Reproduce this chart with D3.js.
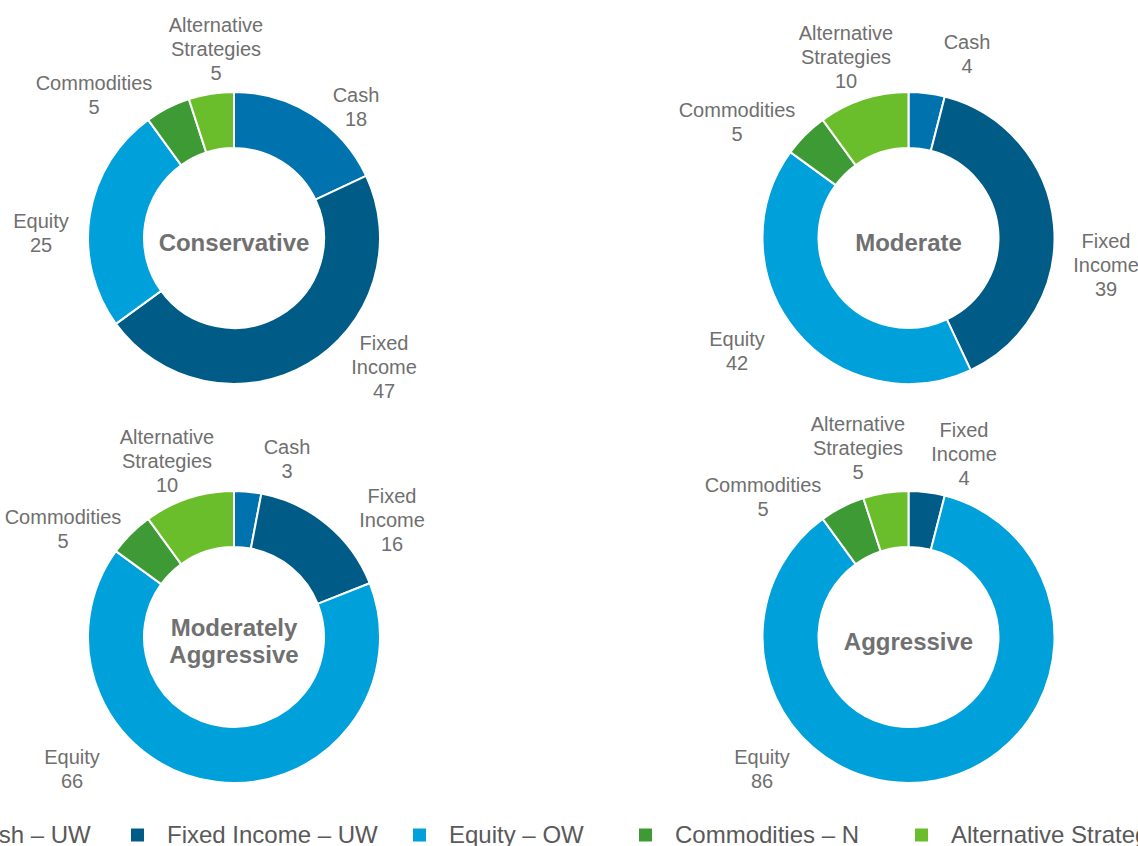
<!DOCTYPE html>
<html>
<head>
<meta charset="utf-8">
<script src="https://cdn.jsdelivr.net/npm/d3@7/dist/d3.min.js"></script>
<style>
  html, body { margin: 0; padding: 0; background: #ffffff; }
  svg { display: block; }
  text { font-family: "Liberation Sans", Arial, Helvetica, sans-serif; }
</style>
</head>
<body>
<div id="chart"></div>
<script>
// Asset classes, in slice order (clockwise from 12 o'clock)
const categories = ["Cash", "Fixed Income", "Equity", "Commodities", "Alternative Strategies"];
const legendLabels = ["Cash – UW", "Fixed Income – UW", "Equity – OW", "Commodities – N", "Alternative Strategies – N"];
const portfolios = ["Conservative", "Moderate", "Moderately Aggressive", "Aggressive"];

// Allocation (%) per portfolio, same order as categories
const conservative         = [18, 47, 25, 5, 5];
const moderate             = [4, 39, 42, 5, 10];
const moderatelyAggressive = [3, 16, 66, 5, 10];
const aggressive           = [0, 4, 86, 5, 5];

const allocations = [conservative, moderate, moderatelyAggressive, aggressive];

// ---- layout ----
const W = 1138, H = 846;
const outerR = 146, innerR = 90;
const centers = [[234, 238], [908.5, 238], [234, 637], [908.5, 637]];
const titleLines = [["Conservative"], ["Moderate"], ["Moderately", "Aggressive"], ["Aggressive"]];
const labelLines = {
  "Cash": ["Cash"],
  "Fixed Income": ["Fixed", "Income"],
  "Equity": ["Equity"],
  "Commodities": ["Commodities"],
  "Alternative Strategies": ["Alternative", "Strategies"]
};
// Label block centres, offset from each donut's centre
const labelOffsets = [
  { "Cash": [122, -131.5], "Fixed Income": [150, 129], "Equity": [-193, -5.5], "Commodities": [-140, -143.5], "Alternative Strategies": [-18, -189] },
  { "Cash": [58.5, -184], "Fixed Income": [197.5, 27], "Equity": [-171.5, 113], "Commodities": [-171.5, -116.5], "Alternative Strategies": [-62.5, -181] },
  { "Cash": [53, -178.5], "Fixed Income": [158, -117], "Equity": [-162, 131.5], "Commodities": [-171, -108.5], "Alternative Strategies": [-67, -176] },
  { "Cash": [0, 0], "Fixed Income": [55.5, -183], "Equity": [-146.5, 131.5], "Commodities": [-145.5, -140.5], "Alternative Strategies": [-50.5, -189] }
];
const legendMarkerX = [-68, 131, 413, 639, 915];

const color = d3.scaleOrdinal()
  .domain(categories)
  .range(["#0072ae", "#005c87", "#00a0da", "#3d9a35", "#6bbe2b"]);

const svg = d3.select("#chart").append("svg")
  .attr("width", W).attr("height", H);

const pie = d3.pie().sort(null).value(d => d.value);
const arc = d3.arc().innerRadius(innerR).outerRadius(outerR);

const lineH = 24;

allocations.forEach((vals, i) => {
  const data = categories.map((c, k) => ({ cat: c, value: vals[k] }));
  const g = svg.append("g").attr("transform", `translate(${centers[i][0]},${centers[i][1]})`);

  g.selectAll("path.slice")
    .data(pie(data).filter(d => d.data.value > 0))
    .join("path")
    .attr("class", "slice")
    .attr("d", arc)
    .attr("fill", d => color(d.data.cat))
    .attr("stroke", "#ffffff")
    .attr("stroke-width", 2)
    .attr("stroke-linejoin", "round");

  // Centre title
  const tl = titleLines[i];
  const tLH = 27;
  g.append("text")
    .attr("text-anchor", "middle")
    .attr("font-size", 24)
    .attr("font-weight", "bold")
    .attr("fill", "#707070")
    .selectAll("tspan")
    .data(tl)
    .join("tspan")
    .attr("x", 0)
    .attr("y", (d, k) => 12.5 - (tl.length - 1) * tLH / 2 + k * tLH)
    .text(d => d);

  // Category / value labels
  data.filter(d => d.value > 0).forEach(d => {
    const lines = labelLines[d.cat].concat([String(d.value)]);
    const [dx, dy] = labelOffsets[i][d.cat];
    g.append("text")
      .attr("text-anchor", "middle")
      .attr("font-size", 20)
      .attr("fill", "#6f6f6f")
      .selectAll("tspan")
      .data(lines)
      .join("tspan")
      .attr("x", dx)
      .attr("y", (t, k) => dy - (lines.length - 1) * lineH / 2 + k * lineH + 7.3)
      .text(t => t);
  });
});

// Legend
const legend = svg.append("g");
categories.forEach((c, k) => {
  const x = legendMarkerX[k];
  legend.append("rect")
    .attr("x", x).attr("y", 828.5)
    .attr("width", 13).attr("height", 13)
    .attr("fill", color(c));
  legend.append("text")
    .attr("x", x + 36).attr("y", 843)
    .attr("font-size", 24)
    .attr("fill", "#595959")
    .text(legendLabels[k]);
});
</script>
</body>
</html>
